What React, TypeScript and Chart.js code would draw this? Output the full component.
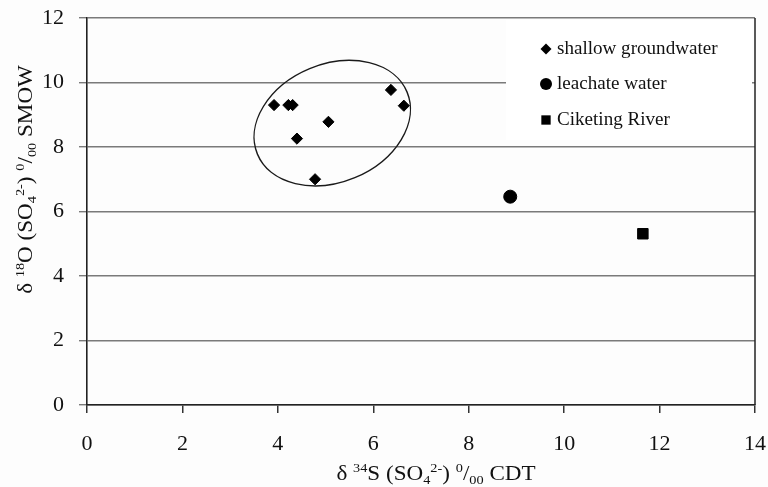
import { useEffect, useRef } from "react";
import { Chart, registerables } from "chart.js";

Chart.register(...registerables);

// ---- data ----
const SERIES_NAMES = ["shallow groundwater", "leachate water", "Ciketing River"];
const SHALLOW_X = [3.92, 4.22, 4.31, 4.4, 5.06, 4.78, 6.37, 6.64];
const SHALLOW_Y = [9.3, 9.3, 9.3, 8.26, 8.78, 7.0, 9.77, 9.28];
const LEACHATE_X = [8.87];
const LEACHATE_Y = [6.46];
const RIVER_X = [11.65];
const RIVER_Y = [5.31];
const X_MIN = 0;
const X_MAX = 14;
const X_STEP = 2;
const Y_MIN = 0;
const Y_MAX = 12;
const Y_STEP = 2;
// annotation ellipse around the shallow groundwater group (centre in data units)
const ELLIPSE_CENTER = { x: 5.14, y: 8.74 };

type Seg = [string, "n" | "sup" | "sub"];
const X_TITLE: Seg[] = [
  ["δ ", "n"], ["34", "sup"], ["S (SO", "n"], ["4", "sub"], ["2-", "sup"],
  [") ", "n"], ["0", "sup"], ["/", "n"], ["00", "sub"], [" CDT", "n"],
];
const Y_TITLE: Seg[] = [
  ["δ ", "n"], ["18", "sup"], ["O (SO", "n"], ["4", "sub"], ["2-", "sup"],
  [") ", "n"], ["0", "sup"], ["/", "n"], ["00", "sub"], [" SMOW", "n"],
];

const FONT = "'Liberation Serif', 'Times New Roman', serif";

function toPoints(xs: number[], ys: number[]) {
  return xs.map((x, i) => ({ x, y: ys[i] }));
}

function drawRich(ctx: CanvasRenderingContext2D, segs: Seg[], size: number, stretch: number) {
  const small = size * 0.62;
  let total = 0;
  for (const [t, m] of segs) {
    ctx.font = `${m === "n" ? size : small}px ${FONT}`;
    total += ctx.measureText(t).width;
  }
  ctx.save();
  ctx.scale(stretch, 1);
  let cx = -total / 2;
  ctx.textBaseline = "alphabetic";
  ctx.textAlign = "left";
  for (const [t, m] of segs) {
    ctx.font = `${m === "n" ? size : small}px ${FONT}`;
    const dy = m === "sup" ? -size * 0.36 : m === "sub" ? size * 0.2 : 0;
    ctx.fillText(t, cx, dy);
    cx += ctx.measureText(t).width;
  }
  ctx.restore();
}

function drawMarker(ctx: CanvasRenderingContext2D, style: string, x: number, y: number, r: number) {
  ctx.beginPath();
  if (style === "circle") {
    ctx.arc(x, y, r, 0, Math.PI * 2);
  } else if (style === "rectRot") {
    ctx.moveTo(x, y - r);
    ctx.lineTo(x + r, y);
    ctx.lineTo(x, y + r);
    ctx.lineTo(x - r, y);
    ctx.closePath();
  } else {
    const s = r * Math.SQRT1_2;
    ctx.rect(x - s, y - s, 2 * s, 2 * s);
  }
  ctx.fill();
}

const decorPlugin = {
  id: "decor",
  beforeDraw(chart: any) {
    const ctx = chart.ctx;
    ctx.save();
    ctx.fillStyle = "#fdfdfd";
    ctx.fillRect(0, 0, chart.width, chart.height);
    ctx.restore();
  },
  afterDatasetsDraw(chart: any) {
    const { ctx, chartArea, scales } = chart;
    const cx = scales.x.getPixelForValue(ELLIPSE_CENTER.x);
    const cy = scales.y.getPixelForValue(ELLIPSE_CENTER.y);
    ctx.save();
    ctx.strokeStyle = "#1a1a1a";
    ctx.lineWidth = 1.4;
    ctx.beginPath();
    ctx.ellipse(cx, cy, 81, 59, (-22.5 * Math.PI) / 180, 0, Math.PI * 2);
    ctx.stroke();
    ctx.restore();

    ctx.save();
    ctx.strokeStyle = "#222";
    ctx.lineWidth = 1.5;
    ctx.beginPath();
    ctx.moveTo(chartArea.right, chartArea.top);
    ctx.lineTo(chartArea.right, chartArea.bottom);
    ctx.stroke();
    ctx.restore();

    const lx = chartArea.right - 249;
    const ly = chartArea.top + 2;
    ctx.save();
    ctx.fillStyle = "#ffffff";
    ctx.fillRect(lx, ly, 246, 120);
    const mx = chartArea.right - 209;
    const rows = [chartArea.top + 31, chartArea.top + 66, chartArea.top + 102];
    const sizes = [5.5, 6, 6.6];
    chart.data.datasets.forEach((ds: any, i: number) => {
      ctx.fillStyle = ds.backgroundColor;
      drawMarker(ctx, ds.pointStyle, mx, rows[i], sizes[i]);
      ctx.fillStyle = "#111";
      ctx.save();
      ctx.translate(mx + 11, rows[i]);
      ctx.scale(1.06, 1);
      ctx.font = `18px ${FONT}`;
      ctx.textBaseline = "middle";
      ctx.textAlign = "left";
      ctx.fillText(ds.label, 0, 0);
      ctx.restore();
    });
    ctx.restore();
  },
  afterDraw(chart: any) {
    const { ctx, chartArea } = chart;
    ctx.save();
    ctx.fillStyle = "#111";
    ctx.translate((chartArea.left + chartArea.right) / 2 + 15, chartArea.bottom + 75);
    drawRich(ctx, X_TITLE, 21, 1.1);
    ctx.restore();

    ctx.save();
    ctx.fillStyle = "#111";
    ctx.translate(32, (chartArea.top + chartArea.bottom) / 2 - 32);
    ctx.rotate(-Math.PI / 2);
    drawRich(ctx, Y_TITLE, 21, 1.1);
    ctx.restore();
  },
};

export default function App() {
  const ref = useRef<HTMLCanvasElement | null>(null);

  useEffect(() => {
    const canvas = ref.current;
    if (!canvas) return;
    const chart = new Chart(canvas, {
      type: "scatter",
      data: {
        datasets: [
          {
            label: SERIES_NAMES[0],
            data: toPoints(SHALLOW_X, SHALLOW_Y),
            pointStyle: "rectRot",
            pointRadius: 5.6,
            backgroundColor: "#000",
            borderColor: "#000",
            borderWidth: 1,
          },
          {
            label: SERIES_NAMES[1],
            data: toPoints(LEACHATE_X, LEACHATE_Y),
            pointStyle: "circle",
            pointRadius: 6.5,
            backgroundColor: "#000",
            borderColor: "#000",
            borderWidth: 1,
          },
          {
            label: SERIES_NAMES[2],
            data: toPoints(RIVER_X, RIVER_Y),
            pointStyle: "rect",
            pointRadius: 7.4,
            backgroundColor: "#000",
            borderColor: "#000",
            borderWidth: 1,
          },
        ],
      },
      options: {
        animation: false,
        responsive: false,
        maintainAspectRatio: false,
        layout: { padding: { left: 0, right: 13, top: 18, bottom: 0 } },
        plugins: {
          legend: { display: false },
          tooltip: { enabled: false },
        },
        scales: {
          x: {
            type: "linear",
            min: X_MIN,
            max: X_MAX,
            afterFit: (s: any) => {
              s.height = 82;
              s.paddingLeft = 0;
              s.paddingRight = 0;
            },
            ticks: {
              stepSize: X_STEP,
              color: "#111",
              padding: 18,
              font: { family: FONT, size: 22 },
              maxRotation: 0,
            },
            grid: {
              drawOnChartArea: false,
              drawTicks: true,
              tickLength: 8,
              color: "#333",
              lineWidth: 1.5,
            },
            border: { color: "#222", width: 1.6 },
          },
          y: {
            type: "linear",
            min: Y_MIN,
            max: Y_MAX,
            afterFit: (s: any) => {
              s.width = 87;
              s.paddingTop = 0;
              s.paddingBottom = 0;
            },
            ticks: {
              stepSize: Y_STEP,
              color: "#111",
              padding: 15,
              font: { family: FONT, size: 22 },
            },
            grid: {
              drawOnChartArea: true,
              drawTicks: true,
              tickLength: 8,
              color: "#7a7a7a",
              lineWidth: 1.4,
            },
            border: { color: "#222", width: 1.6 },
          },
        },
      },
      plugins: [decorPlugin],
    });
    return () => chart.destroy();
  }, []);

  return (
    <div style={{ position: "fixed", left: 0, top: 0, width: 768, height: 487 }}>
      <canvas ref={ref} width={768} height={487} style={{ width: 768, height: 487, display: "block" }} />
    </div>
  );
}
